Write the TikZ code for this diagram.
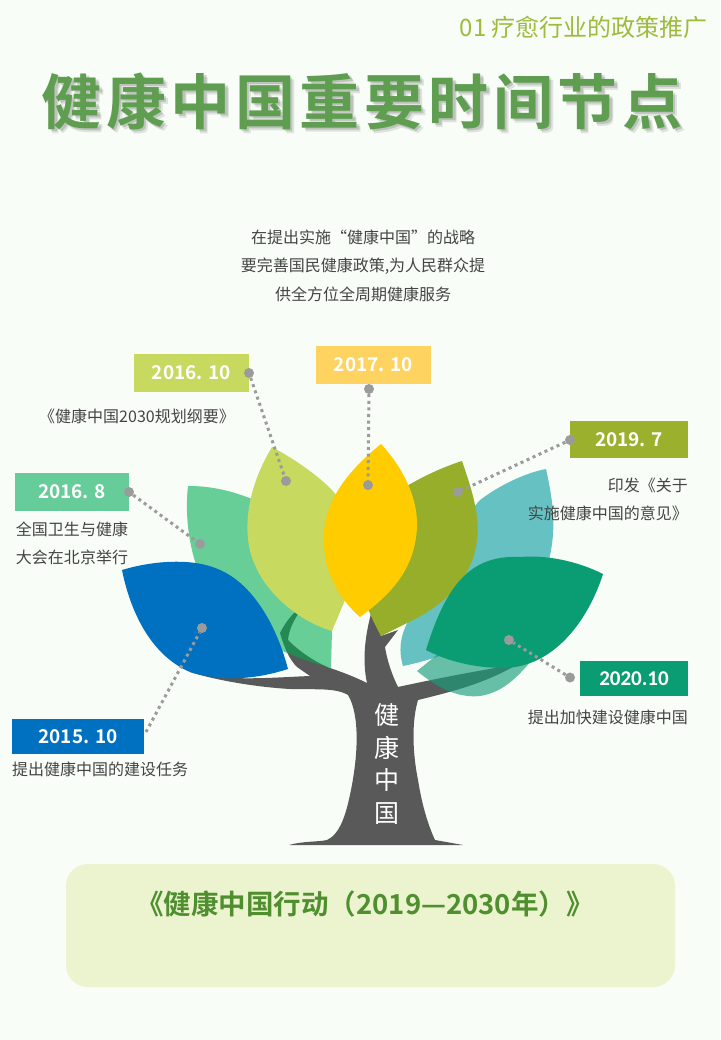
\documentclass[tikz,border=0pt]{standalone}
\usepackage{fontspec}
\setmainfont{Noto Sans CJK SC}
\newfontfamily\titlefont[LetterSpace=7.5]{Noto Sans CJK SC Bold}
\newfontfamily\yearfont{Noto Sans CJK SC Bold}
\newfontfamily\yearlatin{Carlito Bold}
\newfontfamily\boldcjk{Noto Sans CJK SC Bold}
\definecolor{bgc}{HTML}{F8FDF7}
\definecolor{titlec}{HTML}{5F9E50}
\definecolor{subc}{HTML}{9DBB3D}
\definecolor{bodyc}{HTML}{444444}
\definecolor{dotc}{HTML}{9B9B9B}
\definecolor{treec}{HTML}{595959}
\definecolor{c2015}{HTML}{0070C0}
\definecolor{c2016a}{HTML}{66CC99}
\definecolor{c2016b}{HTML}{C7D95F}
\definecolor{c2017}{HTML}{FFD35F}
\definecolor{c2017leaf}{HTML}{FFCC00}
\definecolor{c2019}{HTML}{9BB02D}
\definecolor{c2019leaf}{HTML}{96AE2A}
\definecolor{cteal}{HTML}{66C2C2}
\definecolor{c2020}{HTML}{0A9C72}
\definecolor{leafa}{HTML}{00AD52}
\definecolor{leafb}{HTML}{199F7C}
\definecolor{panelc}{HTML}{EBF3CF}
\definecolor{actc}{HTML}{4F8F2F}
\tikzset{
  x=1pt,y=-1pt,
  yearbox/.style={inner sep=0pt,text=white,font=\yearfont\fontsize{19}{22}\selectfont},
  body/.style={text=bodyc,inner sep=0pt,font=\fontsize{16}{20}\selectfont},
  pin/.style={circle,fill=dotc,inner sep=0pt,minimum size=10pt},
  lead/.style={dotc,line width=3pt,dash pattern=on 3pt off 3.6pt},
  titletext/.style={inner sep=0pt,font=\titlefont\fontsize{60}{70}\selectfont},
}
\begin{document}
\begin{tikzpicture}
\useasboundingbox (0,0) rectangle (720,1040);
\fill[bgc] (0,0) rectangle (720,1040);
% header
\node[text=subc,anchor=east,inner sep=0pt,font=\fontsize{24}{28}\selectfont] (sub) at (708,27) {01 疗愈行业的政策推广};
\node[titletext,text=black,opacity=.10] (titleb) at (366,105) {健康中国重要时间节点};
\node[titletext,text=black,opacity=.14] (titlea) at (364.5,103.5) {健康中国重要时间节点};
\node[titletext,text=titlec] (title) at (362,101) {健康中国重要时间节点};
% intro
\node[body] (i1) at (363,237) {在提出实施“健康中国”的战略};
\node[body] (i2) at (363,266) {要完善国民健康政策,为人民群众提};
\node[body] (i3) at (363,294) {供全方位全周期健康服务};
% tree
\fill[treec] (289,845) .. controls (303,841) and (318,842) .. (327,840)
  .. controls (340,834) and (346,815) .. (351,790)
  .. controls (358,755) and (360,715) .. (348,695)
  .. controls (335,687) and (310,690) .. (290,689)
  .. controls (255,687) and (215,680) .. (190,672)
  -- (233,678) .. controls (260,679) and (285,677) .. (310,676)
  -- (297,667) .. controls (290,660) and (285,650) .. (280,633)
  .. controls (284,625) and (289,618) .. (295,612)
  -- (298,614) .. controls (293,622) and (289,630) .. (288,640)
  .. controls (300,652) and (315,662) .. (330,668)
  .. controls (345,673) and (357,678) .. (367,683)
  .. controls (362,660) and (365,635) .. (372,610)
  -- (381,636) -- (398,630) -- (385,647)
  .. controls (387,660) and (392,675) .. (398,687)
  .. controls (430,680) and (470,672) .. (513,665)
  -- (513,667) .. controls (480,685) and (450,692) .. (418,700)
  .. controls (412,720) and (412,750) .. (418,780)
  .. controls (422,805) and (428,825) .. (435,840)
  -- (463,845) -- cycle;
\node[text=white,inner sep=0pt,align=center,font=\fontsize{25}{32.8}\selectfont] (trunk) at (387,764) {健\\康\\中\\国};
% leaves
\fill[leafa,opacity=.58] (188,486) .. controls (215,486) and (235,492) .. (260,502)
  .. controls (310,530) and (330,590) .. (332,630)
  -- (331,668) .. controls (295,658) and (250,640) .. (225,615)
  .. controls (195,585) and (183,530) .. (188,486) -- cycle;
\fill[cteal] (546,469) .. controls (555,510) and (557,535) .. (545,575)
  .. controls (530,610) and (480,650) .. (403,666)
  .. controls (397,645) and (400,625) .. (430,590)
  .. controls (440,560) and (470,510) .. (480,500)
  .. controls (500,485) and (525,473) .. (546,469) -- cycle;
\fill[leafb,opacity=.65] (417,671) .. controls (440,690) and (460,698) .. (480,696)
  .. controls (505,692) and (520,675) .. (540,650)
  -- (480,620) -- cycle;
\fill[c2016b] (272,447) .. controls (305,465) and (330,485) .. (340,500)
  .. controls (355,530) and (358,575) .. (345,600)
  -- (332,631) .. controls (295,620) and (265,590) .. (255,565)
  .. controls (245,545) and (240,500) .. (272,447) -- cycle;
\fill[c2019leaf] (462,461) .. controls (472,490) and (480,515) .. (477,540)
  .. controls (473,575) and (450,600) .. (417,618)
  -- (381,636) .. controls (375,625) and (370,615) .. (365,600)
  -- (400,490) .. controls (420,478) and (440,468) .. (462,461) -- cycle;
\fill[c2017leaf] (381,444) .. controls (405,470) and (418,500) .. (417,527)
  .. controls (415,570) and (390,595) .. (360,617)
  .. controls (335,595) and (322,565) .. (324,533)
  .. controls (326,495) and (355,465) .. (381,444) -- cycle;
\fill[c2015] (122,570) .. controls (155,560) and (195,558) .. (220,570)
  .. controls (250,583) and (275,620) .. (288,669)
  .. controls (260,678) and (225,683) .. (190,672)
  .. controls (150,655) and (130,610) .. (122,570) -- cycle;
\fill[c2020] (603,574) .. controls (575,560) and (545,555) .. (520,557)
  .. controls (475,555) and (448,578) .. (426,650)
  .. controls (455,665) and (490,670) .. (515,667)
  .. controls (560,660) and (590,615) .. (603,574) -- cycle;
% year boxes
\node[yearbox,fill=c2015,minimum width=132pt,minimum height=35pt] (y15) at (78,736.5) {2015. 10};
\node[yearbox,fill=c2016a,minimum width=114pt,minimum height=38pt] (y16a) at (72,492) {2016. 8};
\node[yearbox,fill=c2016b,minimum width=115pt,minimum height=38pt] (y16b) at (191.5,373) {2016. 10};
\node[yearbox,fill=c2017,minimum width=115pt,minimum height=38pt] (y17) at (373.5,365) {2017. 10};
\node[yearbox,fill=c2019,minimum width=118pt,minimum height=37pt] (y19) at (629,439.5) {2019. 7};
\node[yearbox,fill=c2020,minimum width=108pt,minimum height=35pt,font=\yearlatin\fontsize{21}{24}\selectfont] (y20) at (634,678.5) {2020.10};
% pins
\node[pin] (p15) at (202,628) {};
\node[pin] (p16a) at (200,544) {};
\node[pin] (p16b) at (286,481) {};
\node[pin] (p17) at (368,485) {};
\node[pin] (p19) at (458,492) {};
\node[pin] (p20) at (509,640) {};
\node[pin] (e16a) at (129,492) {};
\node[pin] (e16b) at (249,373) {};
\node[pin] (e17) at (369,389) {};
\node[pin] (e19) at (570,440) {};
\node[pin] (e20) at (570,677.5) {};
\coordinate (e15) at (146,732);
\draw[lead] (e15) -- (p15);
\draw[lead] (e16a) -- (p16a);
\draw[lead] (e16b) -- (p16b);
\draw[lead] (e17) -- (p17);
\draw[lead] (e19) -- (p19);
\draw[lead] (e20) -- (p20);
% captions
\node[body] (t16b) at (137,416) {《健康中国2030规划纲要》};
\node[body] (t16a1) at (72,529) {全国卫生与健康};
\node[body] (t16a2) at (72,557) {大会在北京举行};
\node[body,anchor=east] (t19a) at (688,485) {印发《关于};
\node[body,anchor=east] (t19b) at (688,513) {实施健康中国的意见》};
\node[body,anchor=east] (t20) at (688,717) {提出加快建设健康中国};
\node[body,anchor=west] (t15) at (12,769) {提出健康中国的建设任务};
% bottom panel
\node[fill=panelc,rounded corners=22pt,minimum width=609pt,minimum height=123pt,inner sep=0pt] (panel) at (370.5,925.5) {};
\node[text=actc,inner sep=0pt,font=\boldcjk\fontsize{27.5}{30}\selectfont] (act) at (365,904) {《健康中国行动（2019—2030年）》};
\end{tikzpicture}
\end{document}
